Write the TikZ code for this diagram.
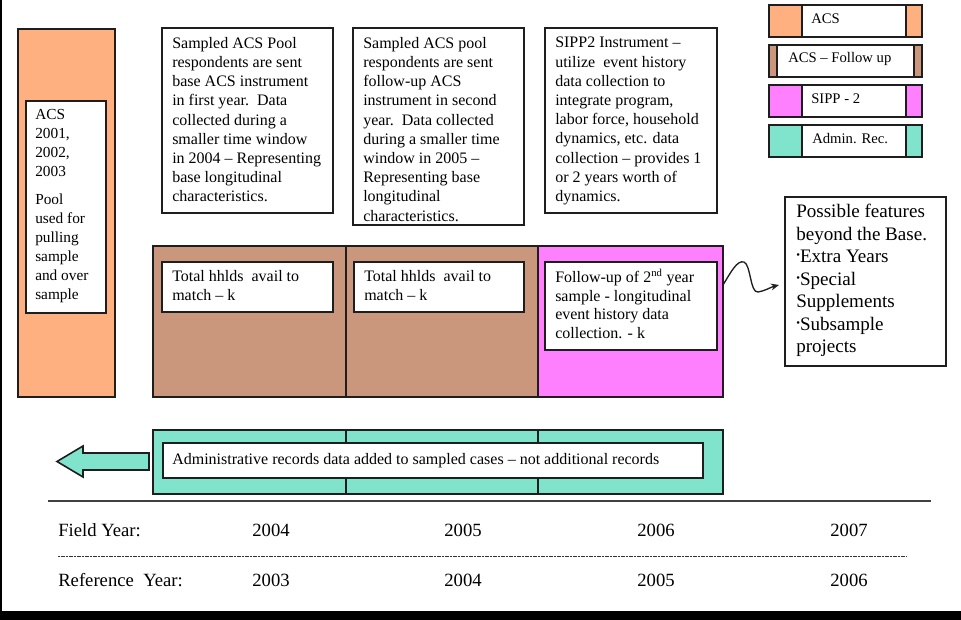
\documentclass[tikz,border=0pt]{standalone}
\usepackage{fontspec}
\setmainfont{Liberation Serif}
\usetikzlibrary{fit,arrows.meta}
\definecolor{acsor}{RGB}{255,176,128}
\definecolor{acsbr}{RGB}{202,150,124}
\definecolor{sipp}{RGB}{255,128,255}
\definecolor{admin}{RGB}{128,228,204}
\definecolor{edge}{RGB}{30,30,30}
\newcommand{\bul}{\raisebox{0.45ex}{\fontsize{8}{8}\selectfont\textbullet}}
\begin{document}
\begin{tikzpicture}[x=0.75pt,y=-0.75pt,
  box/.style={draw=edge,line width=1.2pt,inner sep=0pt,outer sep=0pt},
  wbox/.style={box,fill=white},
  txt/.style={anchor=north west,inner sep=0pt,align=left,font=\fontsize{12}{14.4}\selectfont},
  midtxt/.style={anchor=north west,inner sep=0pt,align=left,font=\fontsize{12}{14}\selectfont},
  smalltxt/.style={anchor=north west,inner sep=0pt,align=left,font=\fontsize{11.5}{14.2}\selectfont},
  bigtxt/.style={anchor=north west,inner sep=0pt,align=left,font=\fontsize{14.3}{16.9}\selectfont},
  lgtxt/.style={anchor=west,inner sep=0pt,font=\fontsize{11}{13}\selectfont},
  yrtxt/.style={inner sep=0pt,font=\fontsize{14}{16}\selectfont}]
\useasboundingbox (0,0) rectangle (961,620);
\fill[white] (0,0) rectangle (961,620);
% frame
\draw[line width=1.5pt] (1,0) -- (1,611);
\fill[black] (0,611) rectangle (961,620);

% left ACS column
\node[box,fill=acsor,fit={(18,29)(115,397)}] (acs) {};
\node[wbox,fit={(26,101)(106,313)}] (acsw) {};
\node[smalltxt] (acst) at (35,109) {ACS\\2001,\\2002,\\2003\\[7pt]Pool\\used for\\pulling\\sample\\and over\\sample};

% top boxes
\node[wbox,fit={(162,28)(333,213)}] (t1) {};
\node[txt] (t1t) at (172,37) {Sampled ACS Pool\\respondents are sent\\base ACS instrument\\in first year.\ \ Data\\collected during a\\smaller time window\\in 2004 -- Representing\\base longitudinal\\characteristics.};
\node[wbox,fit={(353,28)(524,225)}] (t2) {};
\node[txt] (t2t) at (363,37) {Sampled ACS pool\\respondents are sent\\follow-up ACS\\instrument in second\\year.\ \ Data collected\\during a smaller time\\window in 2005 --\\Representing base\\longitudinal\\characteristics.};
\node[wbox,fit={(545,28)(717,213)}] (t3) {};
\node[txt] (t3t) at (555,37) {SIPP2 Instrument --\\utilize\ \ event history\\data collection to\\integrate program,\\labor force, household\\dynamics, etc. data\\collection -- provides 1\\or 2 years worth of\\dynamics.};

% legend
\node[box,fill=acsor,fit={(769,5)(922,37)}] (lg1) {};
\node[wbox,fit={(802,5)(906,37)}] (lg1w) {};
\node[lgtxt] (lg1t) at (811,19) {ACS};
\node[box,fill=acsbr,fit={(769,45)(922,77)}] (lg2) {};
\node[wbox,fit={(777,45)(914,77)}] (lg2w) {};
\node[lgtxt] (lg2t) at (788,59) {ACS -- Follow up};
\node[box,fill=sipp,fit={(769,85)(922,117)}] (lg3) {};
\node[wbox,fit={(802,85)(906,117)}] (lg3w) {};
\node[lgtxt] (lg3t) at (811,99) {SIPP - 2};
\node[box,fill=admin,fit={(769,125)(922,157)}] (lg4) {};
\node[wbox,fit={(802,125)(906,157)}] (lg4w) {};
\node[lgtxt] (lg4t) at (812,139) {Admin. Rec.};

% middle band
\node[box,fill=acsbr,fit={(153,246)(346,397)}] (m1) {};
\node[box,fill=acsbr,fit={(346,246)(538,397)}] (m2) {};
\node[box,fill=sipp,fit={(538,246)(723,397)}] (m3) {};
\node[wbox,fit={(162,262)(333,312)}] (m1w) {};
\node[midtxt] (m1t) at (172,270) {Total hhlds\ \ avail to\\match -- k};
\node[wbox,fit={(354,262)(524,312)}] (m2w) {};
\node[midtxt] (m2t) at (364,270) {Total hhlds\ \ avail to\\match -- k};
\node[wbox,fit={(545,262)(717,350)}] (m3w) {};
\node[midtxt] (m3t) at (555,269) {Follow-up of 2\textsuperscript{nd} year\\sample - longitudinal\\event history data\\collection. - k};

% features box
\node[wbox,fit={(785,197)(946,366)}] (feat) {};
\node[bigtxt] (featt) at (796,204) {Possible features\\beyond the Base.\\\bul Extra Years\\\bul Special\\Supplements\\\bul Subsample\\projects};

% wavy connector
\coordinate (wstart) at (723,285);
\coordinate (wend) at (779,285);
\draw[line width=1pt,edge,-{Stealth[length=6pt,width=5pt]}] (wstart) .. controls (731,272) and (737,260) .. (744,262) .. controls (751,265) and (750,293) .. (758,292) .. controls (765,291) and (771,287) .. (wend);

% admin band
\node[box,fill=admin,fit={(153,430)(346,494)}] (a1) {};
\node[box,fill=admin,fit={(346,430)(538,494)}] (a2) {};
\node[box,fill=admin,fit={(538,430)(723,494)}] (a3) {};
\node[wbox,fit={(163,443)(703,478)}] (aw) {};
\node[midtxt,anchor=west] (awt) at (172,460.5) {Administrative records data added to sampled cases -- not additional records};
\draw[box,fill=admin] (149,453) -- (83,453) -- (83,446) -- (57,461.5) -- (83,477) -- (83,470) -- (149,470) -- cycle;

% timeline
\draw[line width=1.5pt,black!75] (48,501) -- (931,501);
\node[yrtxt,anchor=west] (fy) at (58,530) {Field Year:};
\node[yrtxt] (fy1) at (271,530) {2004};
\node[yrtxt] (fy2) at (463,530) {2005};
\node[yrtxt] (fy3) at (656,530) {2006};
\node[yrtxt] (fy4) at (849,530) {2007};
\draw[line width=0.7pt,black!80,dash pattern=on 1.6pt off 0.4pt] (58,556) -- (907,556);
\node[yrtxt,anchor=west] (ry) at (58,580) {Reference\ \ Year:};
\node[yrtxt] (ry1) at (271,580) {2003};
\node[yrtxt] (ry2) at (463,580) {2004};
\node[yrtxt] (ry3) at (656,580) {2005};
\node[yrtxt] (ry4) at (849,580) {2006};
\end{tikzpicture}
\end{document}
